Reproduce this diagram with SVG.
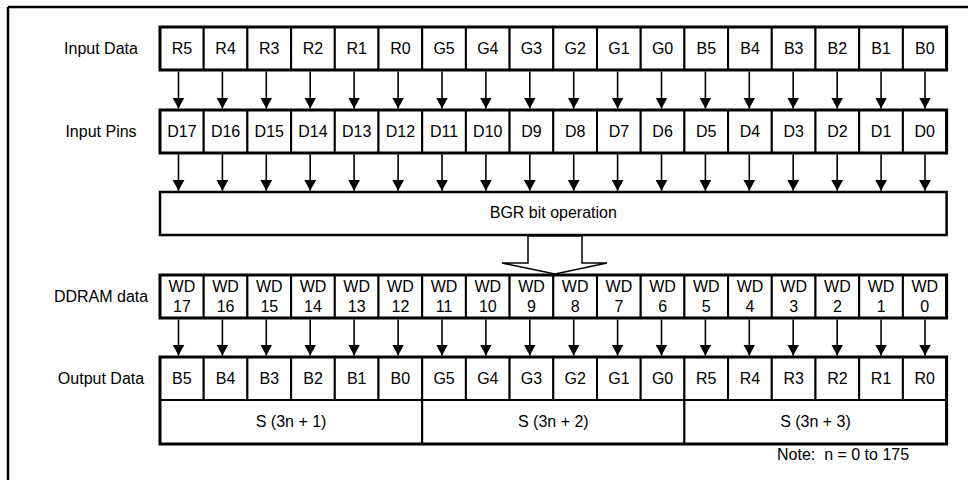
<svg xmlns="http://www.w3.org/2000/svg" width="968" height="480" viewBox="0 0 968 480">
<style>
.c{fill:#fff;stroke:#000;stroke-width:2}
.o{fill:none;stroke:#000;stroke-width:3}
.t{font-family:"Liberation Sans",Arial,sans-serif;font-size:16px;text-anchor:middle;fill:#000}
.l{font-family:"Liberation Sans",Arial,sans-serif;font-size:16px;text-anchor:middle;fill:#000}
.a line{stroke:#000;stroke-width:1.6;fill:none;marker-end:url(#ah)}
</style>
<defs>
<marker id="ah" markerUnits="userSpaceOnUse" markerWidth="11" markerHeight="12" refX="11" refY="6" orient="auto" viewBox="0 0 11 12">
<path d="M0,0 L11,6 L0,12 z" fill="#000"/>
</marker>
</defs>
<rect width="968" height="480" fill="#fff"/>
<g id="frame">
<path d="M8,7 H968 M8,7 V480" stroke="#000" stroke-width="2.5" fill="none"/>
</g>
<g id="labels">
<text class="l" x="101" y="54">Input Data</text>
<text class="l" x="101" y="137">Input Pins</text>
<text class="l" x="101" y="302">DDRAM data</text>
<text class="l" x="101" y="384">Output Data</text>
</g>
<g id="row-input-data">
<g id="in-R5"><rect class="c" x="160" y="27" width="43.7" height="43"/><text class="t" x="181.9" y="54">R5</text></g>
<g id="in-R4"><rect class="c" x="203.7" y="27" width="43.7" height="43"/><text class="t" x="225.6" y="54">R4</text></g>
<g id="in-R3"><rect class="c" x="247.4" y="27" width="43.7" height="43"/><text class="t" x="269.3" y="54">R3</text></g>
<g id="in-R2"><rect class="c" x="291.1" y="27" width="43.7" height="43"/><text class="t" x="313" y="54">R2</text></g>
<g id="in-R1"><rect class="c" x="334.8" y="27" width="43.7" height="43"/><text class="t" x="356.7" y="54">R1</text></g>
<g id="in-R0"><rect class="c" x="378.5" y="27" width="43.7" height="43"/><text class="t" x="400.4" y="54">R0</text></g>
<g id="in-G5"><rect class="c" x="422.2" y="27" width="43.7" height="43"/><text class="t" x="444.1" y="54">G5</text></g>
<g id="in-G4"><rect class="c" x="465.9" y="27" width="43.7" height="43"/><text class="t" x="487.8" y="54">G4</text></g>
<g id="in-G3"><rect class="c" x="509.6" y="27" width="43.7" height="43"/><text class="t" x="531.5" y="54">G3</text></g>
<g id="in-G2"><rect class="c" x="553.3" y="27" width="43.7" height="43"/><text class="t" x="575.2" y="54">G2</text></g>
<g id="in-G1"><rect class="c" x="597" y="27" width="43.7" height="43"/><text class="t" x="618.9" y="54">G1</text></g>
<g id="in-G0"><rect class="c" x="640.7" y="27" width="43.7" height="43"/><text class="t" x="662.6" y="54">G0</text></g>
<g id="in-B5"><rect class="c" x="684.4" y="27" width="43.7" height="43"/><text class="t" x="706.3" y="54">B5</text></g>
<g id="in-B4"><rect class="c" x="728.1" y="27" width="43.7" height="43"/><text class="t" x="750" y="54">B4</text></g>
<g id="in-B3"><rect class="c" x="771.8" y="27" width="43.7" height="43"/><text class="t" x="793.7" y="54">B3</text></g>
<g id="in-B2"><rect class="c" x="815.5" y="27" width="43.7" height="43"/><text class="t" x="837.4" y="54">B2</text></g>
<g id="in-B1"><rect class="c" x="859.2" y="27" width="43.7" height="43"/><text class="t" x="881.1" y="54">B1</text></g>
<g id="in-B0"><rect class="c" x="902.9" y="27" width="43.7" height="43"/><text class="t" x="924.8" y="54">B0</text></g>
<rect class="o" x="160" y="27" width="786.6" height="43"/>
</g>
<g id="row-input-pins">
<g id="pin-D17"><rect class="c" x="160" y="110" width="43.7" height="43"/><text class="t" x="181.9" y="137">D17</text></g>
<g id="pin-D16"><rect class="c" x="203.7" y="110" width="43.7" height="43"/><text class="t" x="225.6" y="137">D16</text></g>
<g id="pin-D15"><rect class="c" x="247.4" y="110" width="43.7" height="43"/><text class="t" x="269.3" y="137">D15</text></g>
<g id="pin-D14"><rect class="c" x="291.1" y="110" width="43.7" height="43"/><text class="t" x="313" y="137">D14</text></g>
<g id="pin-D13"><rect class="c" x="334.8" y="110" width="43.7" height="43"/><text class="t" x="356.7" y="137">D13</text></g>
<g id="pin-D12"><rect class="c" x="378.5" y="110" width="43.7" height="43"/><text class="t" x="400.4" y="137">D12</text></g>
<g id="pin-D11"><rect class="c" x="422.2" y="110" width="43.7" height="43"/><text class="t" x="444.1" y="137">D11</text></g>
<g id="pin-D10"><rect class="c" x="465.9" y="110" width="43.7" height="43"/><text class="t" x="487.8" y="137">D10</text></g>
<g id="pin-D9"><rect class="c" x="509.6" y="110" width="43.7" height="43"/><text class="t" x="531.5" y="137">D9</text></g>
<g id="pin-D8"><rect class="c" x="553.3" y="110" width="43.7" height="43"/><text class="t" x="575.2" y="137">D8</text></g>
<g id="pin-D7"><rect class="c" x="597" y="110" width="43.7" height="43"/><text class="t" x="618.9" y="137">D7</text></g>
<g id="pin-D6"><rect class="c" x="640.7" y="110" width="43.7" height="43"/><text class="t" x="662.6" y="137">D6</text></g>
<g id="pin-D5"><rect class="c" x="684.4" y="110" width="43.7" height="43"/><text class="t" x="706.3" y="137">D5</text></g>
<g id="pin-D4"><rect class="c" x="728.1" y="110" width="43.7" height="43"/><text class="t" x="750" y="137">D4</text></g>
<g id="pin-D3"><rect class="c" x="771.8" y="110" width="43.7" height="43"/><text class="t" x="793.7" y="137">D3</text></g>
<g id="pin-D2"><rect class="c" x="815.5" y="110" width="43.7" height="43"/><text class="t" x="837.4" y="137">D2</text></g>
<g id="pin-D1"><rect class="c" x="859.2" y="110" width="43.7" height="43"/><text class="t" x="881.1" y="137">D1</text></g>
<g id="pin-D0"><rect class="c" x="902.9" y="110" width="43.7" height="43"/><text class="t" x="924.8" y="137">D0</text></g>
<rect class="o" x="160" y="110" width="786.6" height="43"/>
</g>
<g id="bgr-op">
<rect class="c" x="160" y="192" width="786.6" height="43" style="stroke-width:2.5"/>
<text class="t" x="553.3" y="218">BGR bit operation</text>
</g>
<g id="row-ddram">
<g id="wd17"><rect class="c" x="160" y="275" width="43.7" height="43"/><text class="t" x="181.9" y="292">WD</text><text class="t" x="181.9" y="312">17</text></g>
<g id="wd16"><rect class="c" x="203.7" y="275" width="43.7" height="43"/><text class="t" x="225.6" y="292">WD</text><text class="t" x="225.6" y="312">16</text></g>
<g id="wd15"><rect class="c" x="247.4" y="275" width="43.7" height="43"/><text class="t" x="269.3" y="292">WD</text><text class="t" x="269.3" y="312">15</text></g>
<g id="wd14"><rect class="c" x="291.1" y="275" width="43.7" height="43"/><text class="t" x="313" y="292">WD</text><text class="t" x="313" y="312">14</text></g>
<g id="wd13"><rect class="c" x="334.8" y="275" width="43.7" height="43"/><text class="t" x="356.7" y="292">WD</text><text class="t" x="356.7" y="312">13</text></g>
<g id="wd12"><rect class="c" x="378.5" y="275" width="43.7" height="43"/><text class="t" x="400.4" y="292">WD</text><text class="t" x="400.4" y="312">12</text></g>
<g id="wd11"><rect class="c" x="422.2" y="275" width="43.7" height="43"/><text class="t" x="444.1" y="292">WD</text><text class="t" x="444.1" y="312">11</text></g>
<g id="wd10"><rect class="c" x="465.9" y="275" width="43.7" height="43"/><text class="t" x="487.8" y="292">WD</text><text class="t" x="487.8" y="312">10</text></g>
<g id="wd9"><rect class="c" x="509.6" y="275" width="43.7" height="43"/><text class="t" x="531.5" y="292">WD</text><text class="t" x="531.5" y="312">9</text></g>
<g id="wd8"><rect class="c" x="553.3" y="275" width="43.7" height="43"/><text class="t" x="575.2" y="292">WD</text><text class="t" x="575.2" y="312">8</text></g>
<g id="wd7"><rect class="c" x="597" y="275" width="43.7" height="43"/><text class="t" x="618.9" y="292">WD</text><text class="t" x="618.9" y="312">7</text></g>
<g id="wd6"><rect class="c" x="640.7" y="275" width="43.7" height="43"/><text class="t" x="662.6" y="292">WD</text><text class="t" x="662.6" y="312">6</text></g>
<g id="wd5"><rect class="c" x="684.4" y="275" width="43.7" height="43"/><text class="t" x="706.3" y="292">WD</text><text class="t" x="706.3" y="312">5</text></g>
<g id="wd4"><rect class="c" x="728.1" y="275" width="43.7" height="43"/><text class="t" x="750" y="292">WD</text><text class="t" x="750" y="312">4</text></g>
<g id="wd3"><rect class="c" x="771.8" y="275" width="43.7" height="43"/><text class="t" x="793.7" y="292">WD</text><text class="t" x="793.7" y="312">3</text></g>
<g id="wd2"><rect class="c" x="815.5" y="275" width="43.7" height="43"/><text class="t" x="837.4" y="292">WD</text><text class="t" x="837.4" y="312">2</text></g>
<g id="wd1"><rect class="c" x="859.2" y="275" width="43.7" height="43"/><text class="t" x="881.1" y="292">WD</text><text class="t" x="881.1" y="312">1</text></g>
<g id="wd0"><rect class="c" x="902.9" y="275" width="43.7" height="43"/><text class="t" x="924.8" y="292">WD</text><text class="t" x="924.8" y="312">0</text></g>
<rect class="o" x="160" y="275" width="786.6" height="43"/>
</g>
<g id="row-output-data">
<g id="out-B5"><rect class="c" x="160" y="357" width="43.7" height="43"/><text class="t" x="181.9" y="384">B5</text></g>
<g id="out-B4"><rect class="c" x="203.7" y="357" width="43.7" height="43"/><text class="t" x="225.6" y="384">B4</text></g>
<g id="out-B3"><rect class="c" x="247.4" y="357" width="43.7" height="43"/><text class="t" x="269.3" y="384">B3</text></g>
<g id="out-B2"><rect class="c" x="291.1" y="357" width="43.7" height="43"/><text class="t" x="313" y="384">B2</text></g>
<g id="out-B1"><rect class="c" x="334.8" y="357" width="43.7" height="43"/><text class="t" x="356.7" y="384">B1</text></g>
<g id="out-B0"><rect class="c" x="378.5" y="357" width="43.7" height="43"/><text class="t" x="400.4" y="384">B0</text></g>
<g id="out-G5"><rect class="c" x="422.2" y="357" width="43.7" height="43"/><text class="t" x="444.1" y="384">G5</text></g>
<g id="out-G4"><rect class="c" x="465.9" y="357" width="43.7" height="43"/><text class="t" x="487.8" y="384">G4</text></g>
<g id="out-G3"><rect class="c" x="509.6" y="357" width="43.7" height="43"/><text class="t" x="531.5" y="384">G3</text></g>
<g id="out-G2"><rect class="c" x="553.3" y="357" width="43.7" height="43"/><text class="t" x="575.2" y="384">G2</text></g>
<g id="out-G1"><rect class="c" x="597" y="357" width="43.7" height="43"/><text class="t" x="618.9" y="384">G1</text></g>
<g id="out-G0"><rect class="c" x="640.7" y="357" width="43.7" height="43"/><text class="t" x="662.6" y="384">G0</text></g>
<g id="out-R5"><rect class="c" x="684.4" y="357" width="43.7" height="43"/><text class="t" x="706.3" y="384">R5</text></g>
<g id="out-R4"><rect class="c" x="728.1" y="357" width="43.7" height="43"/><text class="t" x="750" y="384">R4</text></g>
<g id="out-R3"><rect class="c" x="771.8" y="357" width="43.7" height="43"/><text class="t" x="793.7" y="384">R3</text></g>
<g id="out-R2"><rect class="c" x="815.5" y="357" width="43.7" height="43"/><text class="t" x="837.4" y="384">R2</text></g>
<g id="out-R1"><rect class="c" x="859.2" y="357" width="43.7" height="43"/><text class="t" x="881.1" y="384">R1</text></g>
<g id="out-R0"><rect class="c" x="902.9" y="357" width="43.7" height="43"/><text class="t" x="924.8" y="384">R0</text></g>
</g>
<g id="row-segments">
<g id="seg-1"><rect class="c" x="160" y="400" width="262.2" height="44"/><text class="t" x="291.1" y="427">S (3n + 1)</text></g>
<g id="seg-2"><rect class="c" x="422.2" y="400" width="262.2" height="44"/><text class="t" x="553.3" y="427">S (3n + 2)</text></g>
<g id="seg-3"><rect class="c" x="684.4" y="400" width="262.2" height="44"/><text class="t" x="815.5" y="427">S (3n + 3)</text></g>
<rect class="o" x="160" y="357" width="786.6" height="87"/>
</g>
<g id="note">
<text x="777" y="460" xml:space="preserve" style="font-family:'Liberation Sans',Arial,sans-serif;font-size:16px;fill:#000">Note:  n = 0 to 175</text>
</g>
<g id="connectors">
<g class="a" id="data-to-pins">
<line x1="178.5" y1="71.5" x2="178.5" y2="108.5"/><line x1="222.4" y1="71.5" x2="222.4" y2="108.5"/><line x1="266.3" y1="71.5" x2="266.3" y2="108.5"/><line x1="310.2" y1="71.5" x2="310.2" y2="108.5"/><line x1="354.1" y1="71.5" x2="354.1" y2="108.5"/><line x1="398.1" y1="71.5" x2="398.1" y2="108.5"/>
<line x1="442" y1="71.5" x2="442" y2="108.5"/><line x1="485.9" y1="71.5" x2="485.9" y2="108.5"/><line x1="529.8" y1="71.5" x2="529.8" y2="108.5"/><line x1="573.7" y1="71.5" x2="573.7" y2="108.5"/><line x1="617.6" y1="71.5" x2="617.6" y2="108.5"/><line x1="661.5" y1="71.5" x2="661.5" y2="108.5"/>
<line x1="705.4" y1="71.5" x2="705.4" y2="108.5"/><line x1="749.3" y1="71.5" x2="749.3" y2="108.5"/><line x1="793.2" y1="71.5" x2="793.2" y2="108.5"/><line x1="837.2" y1="71.5" x2="837.2" y2="108.5"/><line x1="881.1" y1="71.5" x2="881.1" y2="108.5"/><line x1="925" y1="71.5" x2="925" y2="108.5"/>
</g>
<g class="a" id="pins-to-bgr">
<line x1="178.5" y1="154.5" x2="178.5" y2="190.8"/><line x1="222.4" y1="154.5" x2="222.4" y2="190.8"/><line x1="266.3" y1="154.5" x2="266.3" y2="190.8"/><line x1="310.2" y1="154.5" x2="310.2" y2="190.8"/><line x1="354.1" y1="154.5" x2="354.1" y2="190.8"/><line x1="398.1" y1="154.5" x2="398.1" y2="190.8"/>
<line x1="442" y1="154.5" x2="442" y2="190.8"/><line x1="485.9" y1="154.5" x2="485.9" y2="190.8"/><line x1="529.8" y1="154.5" x2="529.8" y2="190.8"/><line x1="573.7" y1="154.5" x2="573.7" y2="190.8"/><line x1="617.6" y1="154.5" x2="617.6" y2="190.8"/><line x1="661.5" y1="154.5" x2="661.5" y2="190.8"/>
<line x1="705.4" y1="154.5" x2="705.4" y2="190.8"/><line x1="749.3" y1="154.5" x2="749.3" y2="190.8"/><line x1="793.2" y1="154.5" x2="793.2" y2="190.8"/><line x1="837.2" y1="154.5" x2="837.2" y2="190.8"/><line x1="881.1" y1="154.5" x2="881.1" y2="190.8"/><line x1="925" y1="154.5" x2="925" y2="190.8"/>
</g>
<g id="bgr-to-ddram">
<polygon points="528,236 528,263 502,263 555,274 607,263 582,263 582,236" fill="#fff" stroke="#000" stroke-width="1.5" stroke-linejoin="miter"/>
</g>
<g class="a" id="ddram-to-output">
<line x1="178.5" y1="319.5" x2="178.5" y2="355.5"/><line x1="222.4" y1="319.5" x2="222.4" y2="355.5"/><line x1="266.3" y1="319.5" x2="266.3" y2="355.5"/><line x1="310.2" y1="319.5" x2="310.2" y2="355.5"/><line x1="354.1" y1="319.5" x2="354.1" y2="355.5"/><line x1="398.1" y1="319.5" x2="398.1" y2="355.5"/>
<line x1="442" y1="319.5" x2="442" y2="355.5"/><line x1="485.9" y1="319.5" x2="485.9" y2="355.5"/><line x1="529.8" y1="319.5" x2="529.8" y2="355.5"/><line x1="573.7" y1="319.5" x2="573.7" y2="355.5"/><line x1="617.6" y1="319.5" x2="617.6" y2="355.5"/><line x1="661.5" y1="319.5" x2="661.5" y2="355.5"/>
<line x1="705.4" y1="319.5" x2="705.4" y2="355.5"/><line x1="749.3" y1="319.5" x2="749.3" y2="355.5"/><line x1="793.2" y1="319.5" x2="793.2" y2="355.5"/><line x1="837.2" y1="319.5" x2="837.2" y2="355.5"/><line x1="881.1" y1="319.5" x2="881.1" y2="355.5"/><line x1="925" y1="319.5" x2="925" y2="355.5"/>
</g>
</g>
</svg>
